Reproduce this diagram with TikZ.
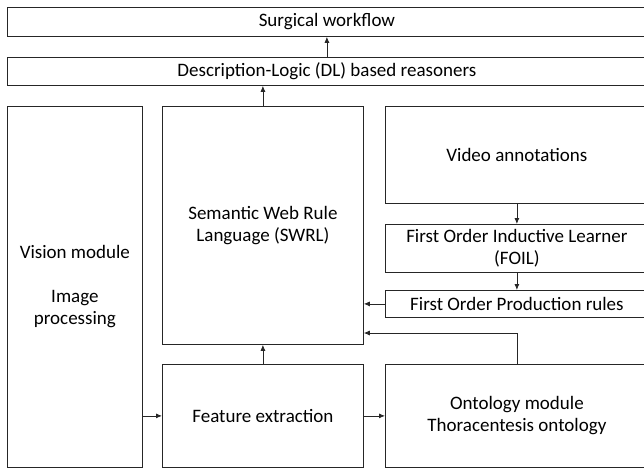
\documentclass[tikz,border=0pt]{standalone}
\usepackage{fontspec}
\setmainfont{Carlito}
\usepackage{tikz}
\usetikzlibrary{arrows, arrows.meta, positioning}
\tikzstyle{block} = [rectangle, anchor=north west, inner sep=0pt, text centered, align=center, draw=black!85, line width=0.8pt]
\tikzstyle{arrow} = [line width=0.8pt, draw=black!85, -{Latex[length=6pt,width=5pt]}]
\tikzset{
  font={\fontsize{19pt}{22pt}\selectfont}}

\begin{document}
\begin{tikzpicture}[x=1pt, y=-1pt]
    \useasboundingbox (0,0) rectangle (644,469);

    \node (surgical) [block, minimum width=639pt, minimum height=29pt] at (7,7) {Surgical workflow};
    \node (reasoner) [block, minimum width=639pt, minimum height=28pt] at (7,57) {Description-Logic (DL) based reasoners};
    \node (vision) [block, minimum width=135pt, minimum height=361pt] at (7,106) {Vision module\\[22pt]Image\\processing};
    \node (swrl) [block, minimum width=201pt, minimum height=238pt] at (162,106) {Semantic Web Rule\\Language (SWRL)};
    \node (video) [block, minimum width=263pt, minimum height=97pt] at (385,106) {Video annotations};
    \node (foil) [block, minimum width=263pt, minimum height=48pt] at (385,224) {First Order Inductive Learner\\(FOIL)};
    \node (rules) [block, minimum width=263pt, minimum height=27pt] at (385,290) {First Order Production rules};
    \node (feature) [block, minimum width=201pt, minimum height=103pt] at (162,364) {Feature extraction};
    \node (ontology) [block, minimum width=263pt, minimum height=103pt] at (385,364) {Ontology module\\Thoracentesis ontology};

    \coordinate[above=31pt of ontology.north] (bend);

    \draw [arrow] (reasoner) -- (surgical);
    \draw [arrow] (swrl.north) -- (swrl.north |- reasoner.south);
    \draw [arrow] (video) -- (foil);
    \draw [arrow] (foil) -- (rules);
    \draw [arrow] (rules) -- (swrl.east |- rules.west);
    \draw [arrow] (ontology.north) |- (swrl.east |- bend);
    \draw [arrow] (feature) -- (swrl);
    \draw [arrow] (vision.east |- feature.west) -- (feature.west);
    \draw [arrow] (feature) -- (ontology);
\end{tikzpicture}
\end{document}
